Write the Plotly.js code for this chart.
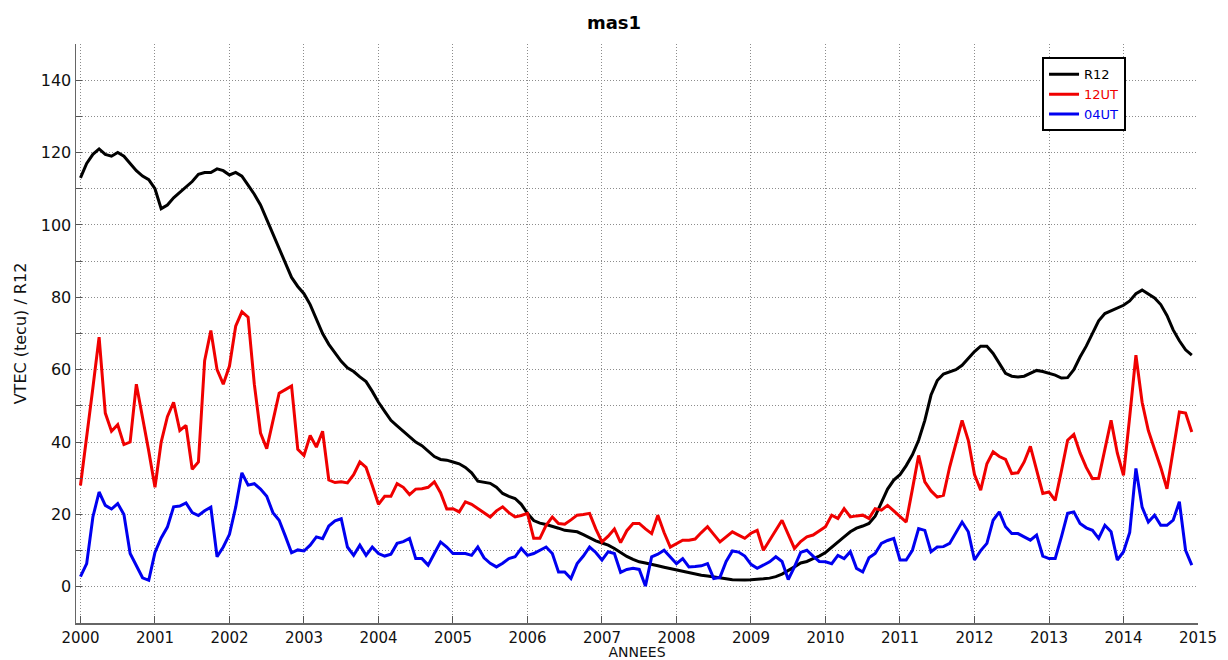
<!DOCTYPE html>
<html>
<head>
<meta charset="utf-8">
<script src="https://cdn.plot.ly/plotly-3.0.1.min.js"></script>
<style>
  html, body { margin: 0; padding: 0; background: #ffffff; }
  #chart { width: 1228px; height: 660px; }
</style>
</head>
<body>
<div id="chart"></div>
<script>
// Monthly series, January 2000 .. December 2014
const startYear = 2000;
const seriesNames = ["R12", "12UT", "04UT"];

const r12 = [
  113, 117, 119.5, 121, 119.5, 119, 120, 119, 117, 115, 113.5, 112.5,
  110, 104.5, 105.5, 107.5, 109, 110.5, 112, 114, 114.5, 114.5, 115.5, 115,
  113.8, 114.5, 113.5, 111, 108.5, 105.5, 101.5, 97.5, 94, 90, 85.5, 83,
  81, 78, 74, 70, 67, 64.5, 62.3, 60.5, 59.5, 58, 56.7, 54,
  51, 48.5, 46, 44.5, 43, 41.5, 40, 39, 37.5, 36, 35.2, 35,
  34.5, 34, 33, 31.5, 29.2, 28.8, 28.6, 27.5, 25.8, 25, 24.4, 22.8,
  20.3, 18.3, 17.6, 17.2, 16.8, 16.2, 15.6, 15.4, 15.2, 14.4, 13.5, 12.7,
  12.1, 11.5, 10.6, 9.5, 8.4, 7.6, 6.9, 6.6, 6.3, 5.8, 5.4, 5.0,
  4.6, 4.2, 3.8, 3.5, 3.2, 3.0, 2.8, 2.5, 2.2, 1.95, 1.85, 1.9,
  1.95, 2.0, 2.2, 2.4, 2.8, 3.5, 4.4, 5.5, 6.6, 7.0, 7.8, 8.5,
  9.5, 11.0, 12.5, 13.8, 15.2, 16.2, 16.8, 17.5, 19.5, 23.5, 27, 29.5,
  31, 33.5, 36.5, 40.5, 46, 53, 57, 58.8, 59.5, 60, 61.2, 63,
  65, 66.5, 66.5, 64.5, 61.8, 59, 58.2, 58, 58.2, 59, 59.8, 59.5,
  59, 58.5, 57.7, 57.8, 60, 63.5, 66.5, 70, 73.5, 75.5, 76.2, 77,
  77.8, 79, 81, 82, 81, 79.8, 78, 75, 71, 68, 65.5, 64
];

const ut12 = [
  28, 41, 55, 69, 48, 43, 44.8, 39.3, 40, 56, 47, 37.5,
  27.5, 40, 47, 51, 43.2, 44.6, 32.5, 34.5, 62.5, 70.8, 60, 56,
  61, 72, 76, 74.5, 56, 42.5, 38.2, 46, 53.5, 54.5, 55.5, 38,
  36.3, 41.8, 38.6, 43, 29.5, 28.8, 29, 28.7, 31, 34.5, 33, 28,
  22.8, 25, 25, 28.5, 27.5, 25.5, 27, 27.1, 27.5, 29, 26, 21.5,
  21.6, 20.7, 23.5, 22.8, 21.6, 20.3, 19.3, 21, 22.1, 20.5, 19.3, 19.7,
  20.3, 13.4, 13.4, 17, 19.3, 17.5, 17.3, 18.5, 19.8, 20, 20.3, 16,
  12.4, 14, 16, 12.2, 15.5, 17.5, 17.5, 16, 14.7, 19.8, 15, 11,
  12, 12.9, 12.9, 13.2, 15, 16.6, 14.5, 12.4, 13.8, 15.2, 14.3, 13.4,
  14.8, 15.6, 10.1, 12.8, 15.5, 18.4, 14.5, 10.6, 12.5, 13.8, 14.3, 15.5,
  16.6, 19.8, 18.9, 21.6, 19.3, 19.6, 19.8, 18.9, 21.6, 21.2, 22.5, 21,
  19.5, 17.9, 27, 36.3, 29, 26.5, 24.8, 25.3, 33.1, 39.5, 46, 40.5,
  31, 26.7, 34, 37.3, 36, 35.2, 31.3, 31.5, 34.5, 38.8, 32, 25.8,
  26.2, 23.9, 32, 40.5, 42.1, 37, 33, 29.9, 30, 38, 46, 37,
  30.8, 47, 64, 51, 43.2, 38, 33, 27.1, 38, 48.3, 48, 42.8
];

const ut04 = [
  2.8, 6.4, 19.3, 26.2, 22.5, 21.5, 23, 20, 9.2, 6, 2.5, 1.8,
  9.5, 13.5, 16.5, 22.1, 22.3, 23.2, 20.5, 19.7, 21, 22, 8.3, 11,
  14.5, 22, 31.5, 28.1, 28.5, 27, 25, 20.5, 18.4, 14, 9.4, 10.2,
  9.9, 11.5, 13.8, 13.3, 16.8, 18.2, 18.8, 11, 8.7, 11.5, 8.7, 11,
  9.2, 8.5, 9, 12, 12.5, 13.4, 7.8, 7.8, 6, 9.2, 12.4, 11,
  9.2, 9.2, 9.2, 8.7, 11, 8, 6.5, 5.5, 6.5, 7.8, 8.3, 10.6,
  8.7, 9.2, 10, 11, 9.2, 4.1, 4.1, 2.3, 6.4, 8.5, 11, 9.5,
  7.4, 9.7, 9.2, 4, 4.8, 5.1, 4.8, 0.2, 8.3, 9, 10.1, 8.3,
  6.4, 7.8, 5.5, 5.6, 5.8, 6.4, 2.3, 2.6, 7, 9.9, 9.6, 8.5,
  6.2, 5.1, 6, 6.9, 8.3, 7, 2.0, 5.5, 9.5, 10.1, 8.5, 7,
  6.9, 6.4, 8.7, 7.8, 9.7, 5.1, 4.1, 8, 9.2, 12, 12.8, 13.4,
  7.4, 7.4, 10.1, 16.1, 15.6, 9.7, 11, 11.1, 12, 15, 17.9, 15.2,
  7.4, 10, 12, 18.4, 20.7, 16.6, 14.7, 14.7, 13.8, 12.9, 14.3, 8.5,
  7.8, 7.8, 13.8, 20.3, 20.7, 17.5, 16.3, 15.6, 13.4, 17, 15.2, 7.4,
  9.7, 15, 32.7, 22, 17.9, 19.8, 17, 17, 18.4, 23.5, 10.1, 6.0
];

const yearTicks = [2000, 2001, 2002, 2003, 2004, 2005, 2006, 2007, 2008,
                   2009, 2010, 2011, 2012, 2013, 2014, 2015];
const yTicks = [0, 20, 40, 60, 80, 100, 120, 140];

const months = r12.map((_, i) => startYear + i / 12);

const lineColors = ["#000000", "#f00000", "#0000f0"];
const allSeries = [r12, ut12, ut04];

const traces = allSeries.map((vals, k) => ({
  type: "scatter",
  mode: "lines",
  x: months,
  y: vals,
  name: '<span style="color:' + lineColors[k] + '">' + seriesNames[k] + '</span>',
  line: { color: lineColors[k], width: 3 }
}));

const font = "DejaVu Sans, Arial, sans-serif";
const gridDash = "1px,2px";
const gridColor = "#8c8c8c";

const layout = {
  width: 1228,
  height: 660,
  paper_bgcolor: "#ffffff",
  plot_bgcolor: "#ffffff",
  margin: { l: 76, r: 30, t: 44, b: 37 },
  font: { family: font, size: 16, color: "#111111" },
  title: {
    text: "<b>mas1</b>",
    x: 0.5, xanchor: "center",
    y: 1, yref: "paper", yanchor: "bottom",
    pad: { b: 15 },
    font: { family: font, size: 18, color: "#000000" }
  },
  xaxis: {
    range: [1999.94, 2015],
    tickmode: "array",
    tickvals: yearTicks,
    ticktext: yearTicks.map(String),
    ticks: "inside",
    ticklen: 7,
    tickcolor: "#555555",
    showline: true,
    linecolor: "#666666",
    linewidth: 1.5,
    mirror: false,
    showgrid: true,
    gridcolor: gridColor,
    griddash: gridDash,
    gridwidth: 1,
    zeroline: false,
    automargin: false,
    tickfont: { family: font, size: 15, color: "#111111" },
    title: { text: "ANNEES", standoff: 4, font: { family: font, size: 14, color: "#111111" } }
  },
  yaxis: {
    range: [-10, 150],
    tickmode: "array",
    tickvals: yTicks,
    ticktext: yTicks.map(String),
    ticks: "inside",
    ticklen: 6,
    tickcolor: "#555555",
    showline: true,
    linecolor: "#666666",
    linewidth: 1.5,
    mirror: false,
    showgrid: true,
    gridcolor: gridColor,
    griddash: gridDash,
    gridwidth: 1,
    zeroline: false,
    automargin: false,
    minor: {
      dtick: 10,
      tick0: 0,
      ticks: "inside",
      ticklen: 6,
      tickcolor: "#555555",
      showgrid: true,
      gridcolor: gridColor,
      griddash: gridDash,
      gridwidth: 1
    },
    tickfont: { family: font, size: 16, color: "#111111" },
    title: { text: "VTEC (tecu) / R12", standoff: 10, font: { family: font, size: 16, color: "#111111" } }
  },
  showlegend: true,
  legend: {
    x: 0.861, xanchor: "left",
    y: 0.977, yanchor: "top",
    bgcolor: "#ffffff",
    bordercolor: "#000000",
    borderwidth: 2,
    font: { family: font, size: 13 },
    tracegroupgap: 0,
    itemwidth: 30
  }
};

Plotly.newPlot("chart", traces, layout, { displayModeBar: false, staticPlot: true });
</script>
</body>
</html>
